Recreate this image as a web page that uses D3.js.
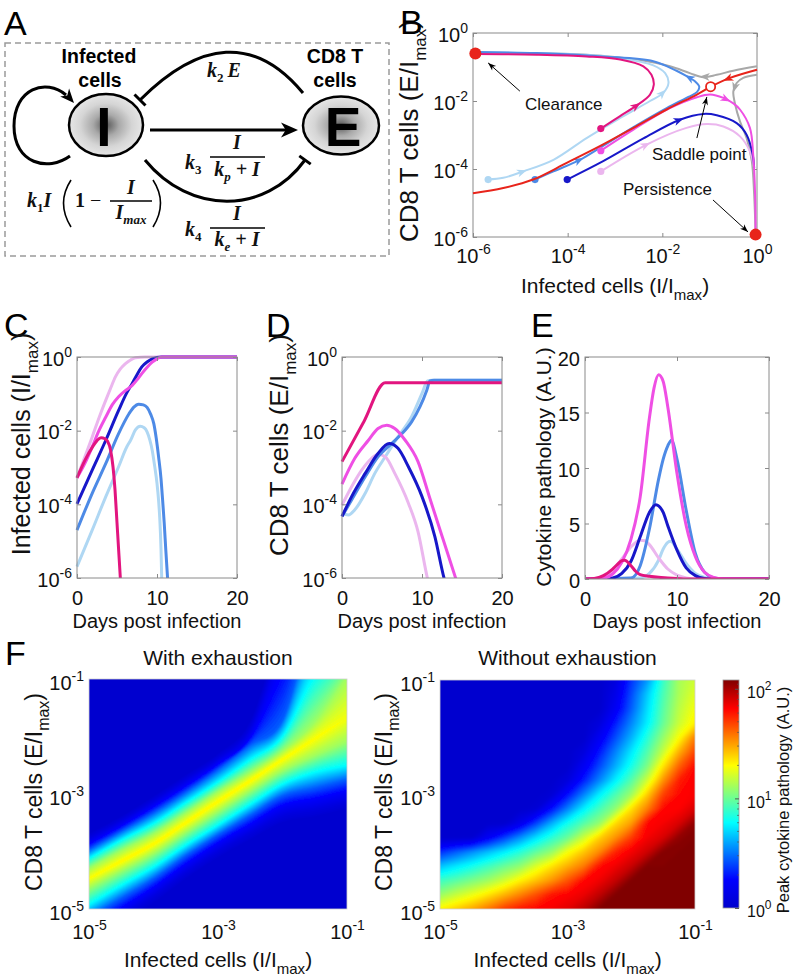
<!DOCTYPE html>
<html><head><meta charset="utf-8">
<script src="https://cdn.jsdelivr.net/npm/d3@7"></script>
<style>
html,body{margin:0;padding:0;background:#fff;}
svg{display:block;font-family:"Liberation Sans",Arial,Helvetica,sans-serif;}
</style></head><body>
<svg id="fig" width="796" height="978" viewBox="0 0 796 978"></svg>
<script>
// ======================= DATA =======================
const colors = {deepPink:"#e2157f", magenta:"#ef4fe4", lightPink:"#ebb6ee", darkBlue:"#1717c9",
  mediumBlue:"#4d8ae6", lightBlue:"#afd7f3", red:"#e8241b", grey:"#a8a8a8"};

// Panel B — phase portrait, values are [log10(I/Imax), log10(E/Imax)]
const bTicks = [1e-6, 1e-4, 1e-2, 1];
const bRedToSaddle = [[-6,-4.71],[-5.36,-4.56],[-4.73,-4.31],[-4.02,-3.82],[-3.32,-3.33],[-2.61,-2.79],[-1.91,-2.25],[-1.27,-1.81],[-0.98,-1.58]];
const bRedFromRight = [[0,-1.08],[-0.57,-1.32],[-0.98,-1.58]];
const bGreyTop = [[0,-0.98],[-0.5,-1.11],[-0.85,-1.23],[-1.13,-1.3],[-1.42,-1.18],[-1.84,-0.98],[-2.54,-0.78],[-3.6,-0.64],[-4.65,-0.6],[-5.95,-0.58]];
const bGreyDown = [[0,-1.23],[-0.29,-1.32],[-0.43,-1.47],[-0.5,-1.72],[-0.46,-2.11],[-0.36,-2.6],[-0.22,-3.09],[-0.11,-3.77],[-0.06,-4.75],[-0.03,-5.93]];
const bLightBlue = [[-5.68,-4.31],[-5.36,-4.26],[-4.94,-4.07],[-4.3,-3.73],[-3.6,-3.09],[-2.89,-2.5],[-2.26,-2.0],[-1.98,-1.76],[-1.87,-1.47],[-1.94,-1.18],[-2.19,-0.95],[-2.89,-0.74],[-3.95,-0.62],[-5.94,-0.58]];
const bMediumBlue = [[-4.69,-4.31],[-4.3,-4.07],[-3.74,-3.73],[-3.32,-3.38],[-2.61,-2.77],[-1.91,-2.21],[-1.45,-1.88],[-1.27,-1.74],[-1.22,-1.58],[-1.31,-1.42],[-1.45,-1.3],[-1.7,-1.11],[-2.19,-0.83],[-3.25,-0.69],[-4.65,-0.59],[-5.94,-0.56]];
const bDeepPink = [[-3.3,-2.81],[-2.9,-2.45],[-2.54,-2.13],[-2.26,-1.81],[-2.18,-1.52],[-2.23,-1.23],[-2.4,-0.98],[-2.89,-0.78],[-3.6,-0.69],[-4.65,-0.64],[-5.94,-0.62]];
const bLightPink = [[-3.3,-4.07],[-2.33,-3.28],[-1.49,-2.79],[-1.06,-2.68],[-0.71,-2.75],[-0.36,-3.04],[-0.15,-3.48],[-0.06,-3.97]];
const bDarkBlue = [[-4.01,-4.31],[-3.25,-3.77],[-2.4,-3.1],[-1.63,-2.55],[-1.13,-2.38],[-0.85,-2.42],[-0.43,-2.65],[-0.22,-2.99],[-0.09,-3.58],[-0.06,-3.97]];
const bMagenta = [[-3.3,-3.46],[-2.61,-2.84],[-1.84,-2.21],[-1.27,-1.89],[-0.99,-1.81],[-0.71,-1.91],[-0.5,-2.07],[-0.36,-2.25],[-0.15,-2.79],[-0.08,-3.58],[-0.04,-4.75],[-0.03,-5.93]];
const bArrowsLightBlue = [[-4.94,-4.07],[-1.98,-1.76]];
const bArrowsMediumBlue = [[-3.74,-3.73],[-1.45,-1.3]];
const bArrowsDeepPink = [[-2.54,-2.13]];
const bArrowsLightPink = [[-2.33,-3.28]];
const bArrowsDarkBlue = [[-1.63,-2.55]];
const bArrowsMagenta = [[-0.64,-1.96]];
const bArrowsRed = [[-0.64,-1.34]];
const bArrowsGreyTop = [[-1.13,-1.3]];
const bArrowsGreyDown = [[-0.5,-1.62]];
const bClearance = [-5.95,-0.6];
const bPersistence = [-0.03,-5.93];
const bSaddle = [-0.98,-1.58];
const bNoteText = ["Clearance","Saddle point","Persistence"];
const bNoteAt = [[-4.9,-2.26],[-2.22,-3.74],[-2.83,-4.76]];
const bNoteFrom = [[-5.01,-1.71],[-1.27,-3.09],[-0.93,-4.91]];
const bNoteTo = [[-5.68,-0.88],[-1.06,-1.88],[-0.19,-5.85]];

// Panels C–E — [day, value]; C and D values are log10
const dayTicks = [0, 10, 20];
const logTicksCD = [1e-6, 1e-4, 1e-2, 1];
const cytoTicks = [0, 5, 10, 15, 20];
const cDeepPink = [[0,-3.28],[1,-2.8],[2,-2.42],[2.5,-2.27],[3,-2.19],[3.5,-2.22],[3.8,-2.28],[4.2,-2.53],[4.5,-2.98],[4.75,-3.6],[5.0,-4.5],[5.25,-5.4],[5.5,-6.3]];
const cMagenta = [[0,-3.28],[1,-2.88],[1.9,-2.44],[2.7,-2.02],[3.6,-1.63],[4.4,-1.3],[5.2,-1.08],[6,-0.92],[6.9,-0.77],[7.5,-0.62],[8.1,-0.45],[8.8,-0.27],[9.4,-0.14],[10,-0.05],[10.6,0],[20,0]];
const cLightPink = [[0,-3.28],[1,-2.7],[1.9,-2.17],[2.8,-1.62],[3.6,-1.17],[4.2,-0.85],[4.8,-0.54],[5.4,-0.33],[6.06,-0.18],[6.7,-0.08],[7.3,-0.02],[8.5,0],[20,0]];
const cDarkBlue = [[0,-3.99],[1.9,-3.07],[3.6,-2.26],[5.2,-1.45],[6.2,-0.98],[6.9,-0.72],[7.5,-0.48],[8.1,-0.27],[8.8,-0.13],[9.4,-0.05],[10.6,0],[20,0]];
const cMediumBlue = [[0,-4.7],[1.9,-3.7],[3.6,-2.89],[5.2,-2.08],[6.5,-1.54],[7.1,-1.36],[7.7,-1.28],[8.3,-1.3],[8.76,-1.37],[9.2,-1.55],[9.6,-1.81],[9.9,-2.2],[10.2,-2.71],[10.5,-3.3],[10.7,-3.88],[10.9,-4.5],[11.1,-5.24],[11.35,-6.1]];
const cLightBlue = [[0,-5.69],[1.9,-4.7],[3.6,-3.79],[5.2,-2.98],[6.2,-2.45],[6.7,-2.26],[7.3,-1.98],[7.9,-1.88],[8.4,-1.92],[8.76,-2.03],[9.1,-2.25],[9.4,-2.53],[9.7,-2.95],[10,-3.43],[10.2,-3.9],[10.35,-4.4],[10.5,-5.2],[10.6,-6.1]];
const dDeepPink = [[0,-2.84],[2.7,-1.77],[5.4,-0.7],[6,-0.7],[20,-0.7]];
const dMagenta = [[0,-3.45],[1.6,-2.75],[3.3,-2.26],[4.5,-1.94],[5.6,-1.85],[6.6,-1.94],[7.9,-2.26],[9.5,-2.84],[11,-3.85],[12.5,-4.86],[14.2,-6.0],[14.5,-6.2]];
const dLightPink = [[0,-4.02],[1.2,-3.52],[2.46,-3.07],[3.7,-2.75],[4.5,-2.64],[5.4,-2.71],[6.6,-3.16],[8.3,-3.97],[9.5,-4.74],[10.67,-6],[11,-6.3]];
const dDarkBlue = [[0,-4.33],[1.2,-3.79],[2.9,-3.16],[4.5,-2.62],[5.9,-2.35],[7,-2.48],[8.3,-2.98],[10,-3.79],[11.6,-4.87],[12.75,-6],[13,-6.2]];
const dMediumBlue = [[0,-4.33],[1.2,-3.88],[2.9,-3.25],[4.5,-2.71],[6.2,-2.35],[7.5,-2.08],[8.7,-1.76],[9.75,-1.35],[10.6,-0.9],[11,-0.65],[11.5,-0.63],[20,-0.63]];
const dLightBlue = [[0,-4.24],[0.8,-4.29],[1.6,-4.15],[2.9,-3.7],[4.1,-3.16],[5.4,-2.71],[7,-2.17],[8.7,-1.62],[10,-0.99],[10.7,-0.65],[11.2,-0.63],[20,-0.63]];
const eMagenta = [[0,0],[2,0.08],[3,0.45],[4,1.5],[5,3.6],[6,7.4],[7,14.5],[7.5,17.2],[8,18.4],[8.5,17.8],[9,15.5],[10,9.5],[11,4.8],[12,2.0],[13,0.6],[14,0.15],[15,0.02],[20,0]];
const eMediumBlue = [[0,0],[5,0.1],[6,1.2],[7,4.5],[8,9.0],[8.5,10.8],[9,12.0],[9.4,12.5],[10,10.8],[11,6.2],[12,2.3],[13,0.6],[14,0.1],[15,0],[20,0]];
const eDarkBlue = [[0,0],[3,0.1],[4,0.5],[5,1.6],[6,3.8],[7,6.0],[7.7,6.7],[8.5,6.0],[9,4.8],[10,2.6],[11,1.0],[12,0.3],[13,0.05],[14,0],[20,0]];
const eLightPink = [[0,0],[1,0.03],[2,0.2],[3,0.8],[4,1.8],[5,2.9],[6,3.5],[6.5,3.45],[7,3.1],[8,1.9],[9,0.9],[10,0.35],[11,0.1],[12,0],[20,0]];
const eLightBlue = [[0,0],[6,0.1],[7,0.5],[8,1.7],[8.5,2.7],[9,3.3],[9.3,3.4],[10,2.7],[11,1.4],[12,0.5],[13,0.15],[14,0],[20,0]];
const eDeepPink = [[0,0],[1,0.05],[2,0.3],[3,0.9],[3.5,1.3],[4,1.65],[4.3,1.7],[5,1.2],[5.5,0.7],[6,0.4],[7,0.25],[8,0.15],[9,0.1],[10,0.05],[11,0],[20,0]];

// Panel F — log10(peak cytokine pathology)
const heatTicks = [1e-5, 1e-3, 1e-1];
const colorbarTicks = [1, 10, 100];
const colorbarMaxLog = 2.08;
// "With exhaustion": ridge read column by column (log10 I), with the log10 E depth/height at which
// the value falls to each level below/above the ridge
const leftColLogI = [-5,-4.5,-4,-3.5,-3,-2.5,-2,-1.5,-1];
const leftRidgeLogE = [-4.47,-4.17,-3.87,-3.50,-3.13,-2.77,-2.40,-2.04,-1.68];
const leftRidgePeak = [1.3,1.32,1.32,1.32,1.32,1.32,1.31,1.3,1.28];
const leftLevels = [1.1, 0.78, 0.45, 0.2, 0.1, 0];
const leftLowerDepth = [
 [0.17,0.45,0.68,0.9,1.0,1.15],
 [0.17,0.42,0.64,0.86,0.96,1.1],
 [0.17,0.4,0.6,0.8,0.9,1.05],
 [0.17,0.39,0.57,0.76,0.86,1.0],
 [0.18,0.41,0.58,0.76,0.86,1.0],
 [0.18,0.41,0.6,0.8,0.9,1.05],
 [0.2,0.43,0.63,0.85,0.97,1.12],
 [0.3,0.58,0.85,1.1,1.22,1.38],
 [0.41,0.82,1.07,1.32,1.45,1.6]];
const leftUpperHeight = [
 [0.18,0.35,0.5,0.63,0.7,0.8],
 [0.19,0.37,0.52,0.64,0.71,0.8],
 [0.18,0.36,0.54,0.68,0.75,0.85],
 [0.17,0.35,0.53,0.67,0.75,0.85],
 [0.17,0.34,0.55,0.68,0.75,0.85],
 [0.15,0.37,0.62,0.79,0.92,1.07],
 [0.15,0.4,0.68,1.8,2.1,2.4],
 [0.29,1.09,2.04,2.54,2.84,3.04],
 [0.73,1.18,1.68,2.18,2.48,2.68]];
// "Without exhaustion": grid, rows top (E=1e-1) to bottom (E=1e-5), cols I=1e-5..1e-1
const heatLogI = [-5,-4.75,-4.5,-4.25,-4,-3.75,-3.5,-3.25,-3,-2.75,-2.5,-2.25,-2,-1.75,-1.5,-1.25,-1];
const heatLogE = [-1,-1.25,-1.5,-1.75,-2,-2.25,-2.5,-2.75,-3,-3.25,-3.5,-3.75,-4,-4.25,-4.5,-4.75,-5];
const gridWithout = [
 [0,0,0,0,0,0,0,0,0,0,0,0.09,0.36,0.57,0.89,1.12,1.2],
 [0,0,0,0,0,0,0,0,0,0,0,0.14,0.41,0.67,0.93,1.13,1.24],
 [0,0,0,0,0,0,0,0,0,0,0,0.2,0.45,0.71,0.96,1.16,1.28],
 [0,0,0,0,0,0,0,0,0,0,0.08,0.31,0.53,0.75,0.99,1.19,1.33],
 [0,0,0,0,0,0,0,0,0,0,0.19,0.41,0.62,0.85,1.08,1.29,1.56],
 [0,0,0,0,0,0,0,0,0,0.08,0.3,0.52,0.73,0.94,1.18,1.46,1.68],
 [0,0,0,0,0,0,0,0,0,0.19,0.4,0.61,0.82,1.03,1.35,1.62,1.8],
 [0,0,0,0,0,0,0,0,0.08,0.31,0.53,0.75,0.95,1.2,1.52,1.76,1.83],
 [0,0,0,0,0,0,0,0.04,0.28,0.52,0.75,0.93,1.1,1.4,1.69,1.8,1.83],
 [0,0,0,0,0,0,0.04,0.28,0.52,0.75,0.92,1.07,1.36,1.56,1.8,1.82,1.9],
 [0,0,0,0,0,0.15,0.38,0.61,0.81,0.95,1.08,1.37,1.5,1.8,1.84,1.9,2.05],
 [0,0,0.02,0.2,0.37,0.54,0.71,0.86,0.99,1.19,1.39,1.52,1.7,1.84,1.9,2.05,2.08],
 [0.34,0.44,0.54,0.64,0.74,0.85,0.97,1.08,1.28,1.41,1.54,1.75,1.84,1.92,2.07,2.08,2.08],
 [0.65,0.73,0.81,0.9,0.99,1.07,1.22,1.35,1.46,1.57,1.79,1.85,1.93,2.08,2.08,2.08,2.08],
 [0.9,0.96,1.03,1.1,1.2,1.32,1.42,1.52,1.65,1.8,1.85,1.94,2.08,2.08,2.08,2.08,2.08],
 [1.09,1.18,1.26,1.35,1.45,1.55,1.66,1.78,1.82,1.86,1.95,2.08,2.08,2.08,2.08,2.08,2.08],
 [1.32,1.4,1.48,1.58,1.7,1.78,1.81,1.84,1.88,1.96,2.08,2.08,2.08,2.08,2.08,2.08,2.08]];

// ======================= DRAWING =======================
const svg = d3.select("#fig");
const defs = svg.append("defs");
const TXT = "#111", AX = "#8a8a8a";

function rich(g, x, y, parts, o = {}) {
  const size = o.size || 20;
  const t = g.append("text").attr("x", x).attr("y", y).attr("font-size", size)
    .attr("text-anchor", o.anchor || "start").attr("fill", o.fill || TXT);
  if (o.rotate) t.attr("transform", `rotate(-90 ${x} ${y})`);
  if (o.weight) t.attr("font-weight", o.weight);
  if (o.family) t.attr("font-family", o.family);
  if (o.style) t.attr("font-style", o.style);
  let cur = 0;
  parts.forEach(p => {
    const [s, k, extra] = Array.isArray(p) ? p : [p];
    let target = 0, fs = null;
    if (k === "sup") { target = -(o.supRaise || size * 0.45); fs = o.supSize || size * 0.68; }
    if (k === "sub") { target = (o.subDrop || size * 0.32); fs = o.subSize || size * 0.68; }
    const ts = t.append("tspan").text(s).attr("dy", target - cur);
    if (fs) ts.attr("font-size", fs);
    if (extra) Object.entries(extra).forEach(([a, v]) => ts.attr(a, v));
    cur = target;
  });
  return t;
}
function supLabels(sel, supSize, raise) {
  sel.selectAll(".tick text").each(function (d) {
    const t = d3.select(this);
    const e = Math.round(Math.log10(d));
    t.text(null);
    t.append("tspan").text("10");
    t.append("tspan").attr("dy", -raise).attr("font-size", supSize).text(String(e));
  });
}
function frame(g, xs, ys, o) {
  const [x0, x1] = xs.range(), [y1, y0] = ys.range();
  const fs = o.fs || 20;
  const mk = (axis, tr, fmt, pad) => {
    const a = g.append("g").attr("transform", tr).call(axis.tickSizeInner(o.tick === undefined ? -4 : o.tick).tickSizeOuter(0).tickPadding(pad).tickFormat(fmt));
    a.select(".domain").remove();
    a.attr("font-size", fs).attr("font-family", null);
    a.selectAll(".tick line").attr("stroke", AX);
    a.selectAll("text").attr("fill", TXT);
    return a;
  };
  const b = mk(d3.axisBottom(xs).tickValues(o.xTicks), `translate(0,${y1})`, o.xFmt || (d => d), o.xPad || 12);
  const l = mk(d3.axisLeft(ys).tickValues(o.yTicks), `translate(${x0},0)`, o.yFmt || (d => d), o.yPad || 5);
  l.selectAll("text").attr("dy", o.yDy || "0.4em");
  if (o.box !== false) {
    mk(d3.axisTop(xs).tickValues(o.xTicks), `translate(0,${y0})`, () => "", 0);
    mk(d3.axisRight(ys).tickValues(o.yTicks), `translate(${x1},0)`, () => "", 0);
    g.append("rect").attr("x", x0).attr("y", y0).attr("width", x1 - x0).attr("height", y1 - y0)
      .attr("fill", "none").attr("stroke", AX).attr("stroke-width", 1);
  }
  if (o.xLog) supLabels(b, o.supSize || 14, o.supRaise || 9);
  if (o.yLog) supLabels(l, o.supSize || 14, o.supRaise || 9);
}
function head(g, x, y, ang, L, W, color) {
  g.append("path").attr("d", `M0,0 L${-L},${-W / 2} L${-L * 0.72},0 L${-L},${W / 2} Z`)
    .attr("transform", `translate(${x},${y}) rotate(${ang})`).attr("fill", color);
}
function arrowOnPath(g, node, target, color, L, W) {
  const len = node.getTotalLength();
  let best = 0, bd = Infinity;
  for (let s = 0; s <= len; s += 0.5) {
    const p = node.getPointAtLength(s);
    const d = (p.x - target[0]) ** 2 + (p.y - target[1]) ** 2;
    if (d < bd) { bd = d; best = s; }
  }
  const p1 = node.getPointAtLength(Math.max(0, best - 3)), p2 = node.getPointAtLength(Math.min(len, best + 3));
  const p = node.getPointAtLength(Math.min(len, best + L * 0.4));
  head(g, p.x, p.y, Math.atan2(p2.y - p1.y, p2.x - p1.x) * 180 / Math.PI, L, W, color);
}
const letter = (x, y, s) => svg.append("text").attr("x", x).attr("y", y).attr("font-size", 34).attr("fill", "#000").text(s);

// ---------- Panel A ----------
(function () {
  const g = svg.append("g");
  letter(4, 35, "A");
  g.append("rect").attr("x", 5).attr("y", 43).attr("width", 384).attr("height", 213)
    .attr("fill", "none").attr("stroke", "#9a9a9a").attr("stroke-width", 1.5).attr("stroke-dasharray", "6,4");
  const rg = defs.append("radialGradient").attr("id", "cellGrad");
  [[0, "#565656"], [0.35, "#a9a9a9"], [0.7, "#d5d5d5"], [1, "#e6e6e6"]].forEach(([o, c]) =>
    rg.append("stop").attr("offset", o).attr("stop-color", c));
  g.append("ellipse").attr("cx", 106).attr("cy", 125).attr("rx", 37).attr("ry", 31)
    .attr("fill", "url(#cellGrad)").attr("stroke", "#000").attr("stroke-width", 2.5);
  g.append("ellipse").attr("cx", 341).attr("cy", 125.5).attr("rx", 38).attr("ry", 29)
    .attr("fill", "url(#cellGrad)").attr("stroke", "#000").attr("stroke-width", 2.5);
  g.append("text").attr("x", 104).attr("y", 146).attr("font-size", 55).attr("font-weight", "bold").attr("text-anchor", "middle").text("I");
  g.append("text").attr("x", 343).attr("y", 146).attr("font-size", 55).attr("font-weight", "bold").attr("text-anchor", "middle").text("E");
  [["Infected", 99, 63], ["cells", 100, 87], ["CD8 T", 335, 63], ["cells", 335, 87]].forEach(([s, x, y]) =>
    g.append("text").attr("x", x).attr("y", y).attr("font-size", 19.5).attr("font-weight", "bold").attr("text-anchor", "middle").text(s));
  const st = p => g.append("path").attr("d", p).attr("fill", "none").attr("stroke", "#000").attr("stroke-width", 3);
  st("M70,156 C48,172 14,164 14,126 C14,88 46,78 66,95");
  head(g, 74, 103, 48, 14, 12, "#000");
  st("M150,130 L286,130");
  head(g, 298, 130, 0, 17, 15, "#000");
  st("M303,93 C255,35 200,40 140,100");
  st("M134.5,94.5 L145.5,105.5");
  st("M145,160 C190,215 265,215 305,160");
  st("M299.3,155.9 L310.7,164.1");
  const M = { family: '"Liberation Serif","Times New Roman",serif', weight: "bold", style: "italic", size: 20, subSize: 13, subDrop: 5 };
  rich(g, 207, 77, ["k", ["2", "sub", { "font-style": "normal" }], ["\u2009E", null]], M);
  rich(g, 185, 169, ["k", ["3", "sub", { "font-style": "normal" }]], M);
  rich(g, 237, 149, ["I"], Object.assign({ anchor: "middle" }, M));
  rich(g, 237, 176, ["k", ["p", "sub"], [" + I", null]], Object.assign({ anchor: "middle" }, M));
  rich(g, 185, 236, ["k", ["4", "sub", { "font-style": "normal" }]], M);
  rich(g, 237, 220, ["I"], Object.assign({ anchor: "middle" }, M));
  rich(g, 237, 246, ["k", ["e", "sub"], [" + I", null]], Object.assign({ anchor: "middle" }, M));
  rich(g, 27, 207, ["k", ["1", "sub", { "font-style": "normal" }], ["I", null]], M);
  rich(g, 75, 207, [["1", null, { "font-style": "normal" }], [" \u2212", null, { "font-style": "normal", "font-weight": "normal" }]], M);
  rich(g, 131, 194, ["I"], Object.assign({ anchor: "middle" }, M));
  rich(g, 131, 219, ["I", ["max", "sub"]], Object.assign({ anchor: "middle" }, M));
  const ln = (x1, y1, x2, y2, w) => g.append("line").attr("x1", x1).attr("y1", y1).attr("x2", x2).attr("y2", y2).attr("stroke", "#000").attr("stroke-width", w);
  ln(210, 157, 265, 157, 1.6); ln(210, 228, 265, 228, 1.6); ln(110, 201, 152, 201, 1.6);
  g.append("path").attr("d", "M71,180 Q56,203 71,227").attr("fill", "none").attr("stroke", "#000").attr("stroke-width", 1.6);
  g.append("path").attr("d", "M153,180 Q168,203 153,227").attr("fill", "none").attr("stroke", "#000").attr("stroke-width", 1.6);
})();

// ---------- Panel B ----------
(function () {
  const g = svg.append("g");
  letter(400, 34, "B");
  const xs = d3.scaleLog().domain([1e-6, 1]).range([473, 757]);
  const ys = d3.scaleLog().domain([1e-6, 1]).range([237, 33]);
  const P = d => [xs(10 ** d[0]), ys(10 ** d[1])];
  frame(g, xs, ys, { xTicks: bTicks, yTicks: bTicks, xLog: true, yLog: true, xPad: 12 });
  const line = d3.line().x(d => P(d)[0]).y(d => P(d)[1]).curve(d3.curveCatmullRom.alpha(0.5));
  const traj = [
    [bGreyTop, colors.grey, bArrowsGreyTop, false],
    [bGreyDown, colors.grey, bArrowsGreyDown, false],
    [bLightBlue, colors.lightBlue, bArrowsLightBlue, true],
    [bMediumBlue, colors.mediumBlue, bArrowsMediumBlue, true],
    [bDeepPink, colors.deepPink, bArrowsDeepPink, true],
    [bLightPink, colors.lightPink, bArrowsLightPink, true],
    [bDarkBlue, colors.darkBlue, bArrowsDarkBlue, true],
    [bMagenta, colors.magenta, bArrowsMagenta, true],
    [bRedToSaddle, colors.red, [], false],
    [bRedFromRight, colors.red, bArrowsRed, false]];
  traj.forEach(([data, c, arrows, dot]) => {
    const p = g.append("path").attr("d", line(data)).attr("fill", "none").attr("stroke", c).attr("stroke-width", 2);
    arrows.forEach(a => arrowOnPath(g, p.node(), P(a), c, 10, 8));
    if (dot) g.append("circle").attr("cx", P(data[0])[0]).attr("cy", P(data[0])[1]).attr("r", 3.6).attr("fill", c);
  });
  g.append("circle").attr("cx", P(bClearance)[0]).attr("cy", P(bClearance)[1]).attr("r", 6).attr("fill", colors.red);
  g.append("circle").attr("cx", P(bPersistence)[0]).attr("cy", P(bPersistence)[1]).attr("r", 6).attr("fill", colors.red);
  g.append("circle").attr("cx", P(bSaddle)[0]).attr("cy", P(bSaddle)[1]).attr("r", 4.6).attr("fill", "#fff").attr("stroke", colors.red).attr("stroke-width", 1.8);
  bNoteText.forEach((s, i) => {
    const a = P(bNoteFrom[i]), b = P(bNoteTo[i]);
    g.append("line").attr("x1", a[0]).attr("y1", a[1]).attr("x2", b[0]).attr("y2", b[1]).attr("stroke", "#000").attr("stroke-width", 1);
    head(g, b[0], b[1], Math.atan2(b[1] - a[1], b[0] - a[0]) * 180 / Math.PI, 8, 6, "#000");
    const t = P(bNoteAt[i]);
    g.append("text").attr("x", t[0]).attr("y", t[1]).attr("font-size", 17).attr("fill", TXT).text(s);
  });
  rich(g, 615, 293, ["Infected cells (I/I", ["max", "sub"], [")", null]], { size: 21, anchor: "middle", subSize: 15, subDrop: 7 });
  rich(g, 418, 131, ["CD8 T cells (E/I", ["max", "sub"], [")", null]], { size: 26, anchor: "middle", rotate: true, subSize: 17, subDrop: 8 });
})();

// ---------- Panels C, D, E ----------
function timePanel(x0, x1, y0, y1, yLog, series, clipId) {
  const g = svg.append("g");
  const xs = d3.scaleLinear().domain([0, 20]).range([x0, x1]);
  const ys = yLog ? d3.scaleLog().domain([1e-6, 1]).range([y1, y0]) : d3.scaleLinear().domain([0, 20]).range([y1, y0]);
  defs.append("clipPath").attr("id", clipId).append("rect").attr("x", x0 - 3).attr("y", y0 - 6).attr("width", x1 - x0 + 6).attr("height", y1 - y0 + 6);
  const line = d3.line().x(d => xs(d[0])).y(d => ys(yLog ? 10 ** d[1] : d[1])).curve(d3.curveMonotoneX);
  const lg = g.append("g").attr("clip-path", `url(#${clipId})`);
  series.forEach(([data, c]) => lg.append("path").attr("d", line(data)).attr("fill", "none").attr("stroke", c)
    .attr("stroke-width", 3).attr("stroke-linejoin", "round"));
  frame(g, xs, ys, { xTicks: dayTicks, yTicks: yLog ? logTicksCD : cytoTicks, yLog: yLog, xPad: 13 });
  rich(g, (x0 + x1) / 2, 628, ["Days post infection"], { size: 20, anchor: "middle" });
  return g;
}
(function () {
  letter(4, 337, "C");
  const g = timePanel(77, 237, 357, 578, true, [
    [cLightBlue, colors.lightBlue], [cLightPink, colors.lightPink], [cMediumBlue, colors.mediumBlue],
    [cDarkBlue, colors.darkBlue], [cMagenta, colors.magenta], [cDeepPink, colors.deepPink]], "clipC");
  rich(g, 30, 444, ["Infected cells (I/I", ["max", "sub"], [")", null]], { size: 25, anchor: "middle", rotate: true, subSize: 17, subDrop: 8 });
  letter(266, 337, "D");
  const g2 = timePanel(342, 502, 357, 578, true, [
    [dLightBlue, colors.lightBlue], [dLightPink, colors.lightPink], [dMediumBlue, colors.mediumBlue],
    [dDarkBlue, colors.darkBlue], [dMagenta, colors.magenta], [dDeepPink, colors.deepPink]], "clipD");
  rich(g2, 288, 445, ["CD8 T cells (E/I", ["max", "sub"], [")", null]], { size: 26, anchor: "middle", rotate: true, subSize: 17, subDrop: 8 });
  letter(531, 337, "E");
  const g3 = timePanel(585, 769, 357, 579, false, [
    [eLightBlue, colors.lightBlue], [eLightPink, colors.lightPink], [eMediumBlue, colors.mediumBlue],
    [eDarkBlue, colors.darkBlue], [eMagenta, colors.magenta], [eDeepPink, colors.deepPink]], "clipE");
  rich(g3, 551, 467, ["Cytokine pathology (A.U.)"], { size: 21, anchor: "middle", rotate: true });
})();

// ---------- Panel F ----------
const jetStops = [[0, [0, 0, 205]], [0.125, [0, 0, 255]], [0.375, [0, 255, 255]], [0.625, [255, 255, 0]], [0.875, [255, 0, 0]], [1, [128, 0, 0]]];
function jet(t) {
  t = Math.max(0, Math.min(1, t));
  for (let i = 1; i < jetStops.length; i++) {
    if (t <= jetStops[i][0]) {
      const [a, ca] = jetStops[i - 1], [b, cb] = jetStops[i], f = (t - a) / (b - a);
      return `rgb(${ca.map((c, k) => Math.round(c + (cb[k] - c) * f)).join(",")})`;
    }
  }
  return "rgb(128,0,0)";
}
[["soft1", 0.7], ["soft2", 1.4]].forEach(([id, s]) =>
  defs.append("filter").attr("id", id).attr("x", "-5%").attr("y", "-5%").attr("width", "110%").attr("height", "110%")
    .append("feGaussianBlur").attr("stdDeviation", s));

function colSpline(arr, c, f) {
  const n = arr.length;
  const p1 = arr[c], p2 = arr[c + 1];
  const p0 = c > 0 ? arr[c - 1] : 2 * p1 - p2;
  const p3 = c + 2 < n ? arr[c + 2] : 2 * p2 - p1;
  return 0.5 * (2 * p1 + (-p0 + p2) * f + (2 * p0 - 5 * p1 + 4 * p2 - p3) * f * f + (-p0 + 3 * p1 - 3 * p2 + p3) * f * f * f);
}
function ridgeValue(li, le) {
  let c = 0;
  while (c < leftColLogI.length - 2 && li > leftColLogI[c + 1]) c++;
  const f = Math.max(0, Math.min(1, (li - leftColLogI[c]) / (leftColLogI[c + 1] - leftColLogI[c])));
  const r = colSpline(leftRidgeLogE, c, f);
  const pk = colSpline(leftRidgePeak, c, f);
  const side = tbl => {
    const out = [];
    leftLevels.forEach((_, k) => {
      let v = colSpline(tbl.map(row => row[k]), c, f);
      if (k > 0) v = Math.max(v, out[k - 1] + 0.01);
      else v = Math.max(v, 0.03);
      out.push(v);
    });
    return out;
  };
  let prevP = r, prevV = pk;
  if (le <= r) {
    const off = side(leftLowerDepth);
    for (let k = 0; k < leftLevels.length; k++) {
      const p = r - off[k], v = leftLevels[k];
      if (le >= p) return prevV + (v - prevV) * (prevP - le) / (prevP - p);
      prevP = p; prevV = v;
    }
  } else {
    const off = side(leftUpperHeight);
    for (let k = 0; k < leftLevels.length; k++) {
      const p = r + off[k], v = leftLevels[k];
      if (le <= p) return prevV + (v - prevV) * (le - prevP) / (p - prevP);
      prevP = p; prevV = v;
    }
  }
  return 0;
}
function heatPanel(x0, x1, y0, y1, title, field, id, filt) {
  const g = svg.append("g");
  const xs = d3.scaleLog().domain([1e-5, 1e-1]).range([x0, x1]);
  const ys = d3.scaleLog().domain([1e-5, 1e-1]).range([y1, y0]);
  const proj = d3.geoTransform({ point(x, y) { const q = field.map(x, y); this.stream.point(xs(10 ** q[0]), ys(10 ** q[1])); } });
  const path = d3.geoPath(proj);
  const step = 0.02;
  const cs = d3.contours().size([field.n, field.m]).thresholds(d3.range(0, 2.1, step))(field.values);
  defs.append("clipPath").attr("id", id).append("rect").attr("x", x0).attr("y", y0).attr("width", x1 - x0).attr("height", y1 - y0);
  const cg = g.append("g").attr("clip-path", `url(#${id})`);
  cg.append("rect").attr("x", x0).attr("y", y0).attr("width", x1 - x0).attr("height", y1 - y0).attr("fill", jet(0));
  cg.append("g").attr("filter", `url(#${filt})`)
    .selectAll("path").data(cs).join("path").attr("d", path).attr("fill", d => jet((d.value + step / 2) / colorbarMaxLog));
  g.append("rect").attr("x", x0).attr("y", y0).attr("width", x1 - x0).attr("height", y1 - y0).attr("fill", "none").attr("stroke", "#d0d0d0").attr("stroke-width", 0.8);
  frame(g, xs, ys, { xTicks: heatTicks, yTicks: heatTicks, xLog: true, yLog: true, box: false, tick: 0, xPad: 16, yPad: 5, yDy: "0.5em" });
  g.append("text").attr("x", (x0 + x1) / 2).attr("y", 665).attr("font-size", 21).attr("text-anchor", "middle").attr("fill", TXT).text(title);
  rich(g, (x0 + x1) / 2, 967, ["Infected cells (I/I", ["max", "sub"], [")", null]], { size: 21, anchor: "middle", subSize: 15, subDrop: 7 });
  return g;
}
(function () {
  letter(5, 665, "F");
  const N = 160, vals = [];
  for (let j = 0; j < N; j++) for (let i = 0; i < N; i++)
    vals.push(ridgeValue(-5 + (i + 0.5) * 4 / N, -1 - (j + 0.5) * 4 / N));
  const fieldL = { n: N, m: N, values: vals, map: (x, y) => [-5 + x * 4 / N, -1 - y * 4 / N] };
  const gl = heatPanel(89, 347, 679, 909, "With exhaustion", fieldL, "clipF1", "soft1");
  rich(gl, 42, 792, ["CD8 T cells (E/I", ["max", "sub"], [")", null]], { size: 23, anchor: "middle", rotate: true, subSize: 16, subDrop: 7 });
  const dI = heatLogI[1] - heatLogI[0], dE = heatLogE[1] - heatLogE[0];
  const fieldR = { n: heatLogI.length, m: heatLogE.length, values: gridWithout.flat(),
    map: (x, y) => [heatLogI[0] + (x - 0.5) * dI, heatLogE[0] + (y - 0.5) * dE] };
  const gr = heatPanel(440, 695, 680, 909, "Without exhaustion", fieldR, "clipF2", "soft2");
  rich(gr, 392, 792, ["CD8 T cells (E/I", ["max", "sub"], [")", null]], { size: 23, anchor: "middle", rotate: true, subSize: 16, subDrop: 7 });
  const g = svg.append("g");
  const cb = d3.scaleLog().domain([1, 10 ** colorbarMaxLog]).range([908, 680]);
  const lgr = defs.append("linearGradient").attr("id", "jetGrad").attr("x1", 0).attr("y1", 1).attr("x2", 0).attr("y2", 0);
  d3.range(0, 1.0001, 0.025).forEach(t => lgr.append("stop").attr("offset", t).attr("stop-color", jet(t)));
  g.append("rect").attr("x", 723).attr("y", 680).attr("width", 16).attr("height", 228).attr("fill", "url(#jetGrad)").attr("stroke", "#9a9a9a").attr("stroke-width", 0.8);
  const ax = g.append("g").attr("transform", "translate(739,0)")
    .call(d3.axisRight(cb).tickValues(colorbarTicks).tickSizeInner(-4).tickSizeOuter(0).tickPadding(8).tickFormat(d => d));
  ax.select(".domain").remove();
  ax.attr("font-size", 16).attr("font-family", null);
  ax.selectAll(".tick line").attr("stroke", "#555");
  ax.selectAll("text").attr("fill", TXT).attr("dy", "0.55em");
  supLabels(ax, 12, 8);
  const minor = [];
  [1, 10].forEach(b => [2, 3, 4, 5, 6, 7, 8, 9].forEach(k => minor.push(b * k)));
  minor.push(110);
  minor.filter(v => v <= 10 ** colorbarMaxLog).forEach(v =>
    g.append("line").attr("x1", 737).attr("x2", 739).attr("y1", cb(v)).attr("y2", cb(v)).attr("stroke", "#555").attr("stroke-width", 0.7));
  rich(g, 789, 800, ["Peak cytokine pathology (A.U.)"], { size: 16.5, anchor: "middle", rotate: true });
})();
</script></body></html>
